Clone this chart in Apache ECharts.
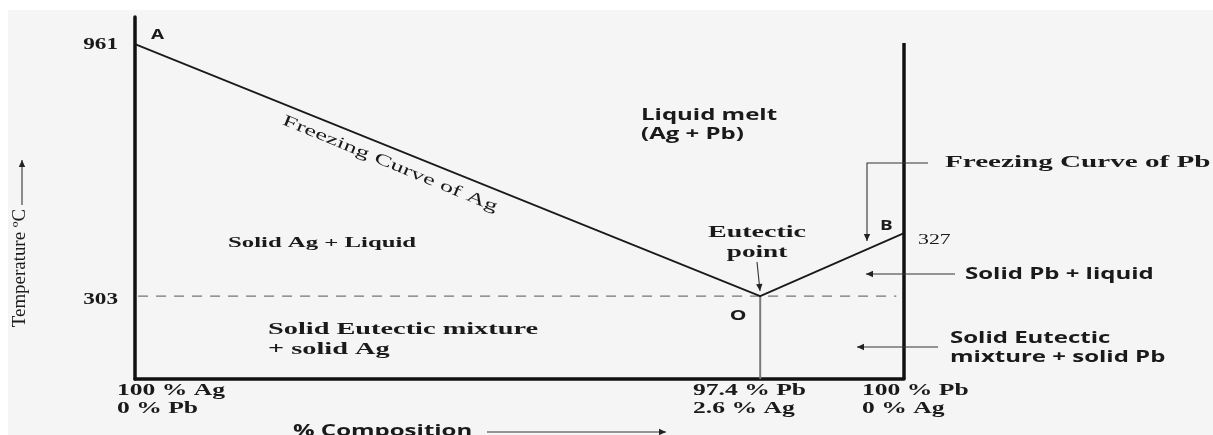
<!DOCTYPE html>
<html>
<head>
<meta charset="utf-8">
<script src="https://cdn.jsdelivr.net/npm/echarts@6/dist/echarts.min.js"></script>
<style>
html,body{margin:0;padding:0;background:#fff;}
#c{width:1213px;height:435px;}
</style>
</head>
<body>
<div id="c"></div>
<script>
// ---- data (schematic diagram: positions are not to scale) ----
const pointNames = ['A', 'O', 'B'];
const compositionPos = [0, 81.3, 100];          // x: 100% Ag, eutectic, 100% Pb
const tempPos = [92.5, 22.9, 40.3];             // y: schematic height of A, O, B
const tempLabels = ['961', '303', '327'];
const compLabelsTop = ['100 % Ag', '97.4 % Pb', '100 % Pb'];
const compLabelsBottom = ['0 % Pb', '2.6 % Ag', '0 % Ag'];
const wallTop = 92.8;

const freezingCurve = compositionPos.map((x, i) => [x, tempPos[i]]);
const eutecticX = compositionPos[1], eutecticY = tempPos[1];

const chart = echarts.init(document.getElementById('c'));

const SERIF = '"Liberation Serif","Times New Roman",serif';
const SANS = '"Open Sans",Lato,sans-serif';
const SX = 1.6;

function txt(text, x, y, o) {
  o = o || {};
  return {
    type: 'text', x: x, y: y, z: 10,
    rotation: o.rot || 0,
    scaleX: o.sx == null ? SX : o.sx,
    style: {
      text: text,
      font: (o.weight || 'bold') + ' ' + (o.size || 16) + 'px ' + (o.family || SERIF),
      fill: o.color || '#1a1a1a',
      textAlign: o.align || 'left',
      textVerticalAlign: 'middle'
    }
  };
}
function arrow(x1, y1, x2, y2, pts) {
  const path = pts ? pts : [[x1, y1], [x2, y2]];
  const a = path[path.length - 2], b = path[path.length - 1];
  const ang = Math.atan2(b[1] - a[1], b[0] - a[0]);
  const L = 7, W = 3.2;
  const p1 = [b[0] - L * Math.cos(ang) + W * Math.sin(ang), b[1] - L * Math.sin(ang) - W * Math.cos(ang)];
  const p2 = [b[0] - L * Math.cos(ang) - W * Math.sin(ang), b[1] - L * Math.sin(ang) + W * Math.cos(ang)];
  return [
    { type: 'polyline', z: 10, shape: { points: path }, style: { stroke: '#333', lineWidth: 1.1, fill: null } },
    { type: 'polygon', z: 10, shape: { points: [b, p1, p2] }, style: { fill: '#222' } }
  ];
}

const graphics = [
  { type: 'rect', z: -10, shape: { x: 8, y: 10, width: 1205, height: 425 }, style: { fill: '#f5f5f5' } },
  // tick labels
  txt(tempLabels[0], 118, 45, { align: 'right', sx: 1.45 }),
  txt(tempLabels[1], 118, 300, { align: 'right', sx: 1.45 }),
  txt(tempLabels[2], 918, 240, { size: 15, weight: 'normal', sx: 1.45 }),
  // point letters
  txt(pointNames[0], 151, 35, { family: SANS, size: 14, sx: 1.35 }),
  txt(pointNames[1], 738, 316, { family: SANS, size: 15, sx: 1.4, align: 'center' }),
  txt(pointNames[2], 880, 226, { family: SANS, size: 14, sx: 1.35 }),
  // curve / region labels
  txt('Freezing Curve of Ag', 390, 164, { weight: 'normal', align: 'center', rot: -0.39, sx: 1.65 }),
  txt('Liquid melt', 641, 115, { family: SANS, size: 16, sx: 1.5 }),
  txt('(Ag + Pb)', 641, 134, { family: SANS, size: 16, sx: 1.5 }),
  txt('Freezing Curve of Pb', 945, 163, { size: 16, sx: 1.82 }),
  txt('Eutectic', 757, 233, { align: 'center', size: 16, sx: 1.75 }),
  txt('point', 757, 253, { align: 'center', size: 16, sx: 1.7 }),
  txt('Solid Ag + Liquid', 228, 243, { size: 15, sx: 1.65 }),
  txt('Solid Pb + liquid', 965, 274, { family: SANS, size: 16, sx: 1.5 }),
  txt('Solid Eutectic mixture', 268, 330, { size: 16, sx: 1.77 }),
  txt('+ solid Ag', 268, 350, { size: 16, sx: 1.77 }),
  txt('Solid Eutectic', 950, 338, { family: SANS, size: 16, sx: 1.5 }),
  txt('mixture + solid Pb', 950, 357, { family: SANS, size: 16, sx: 1.5 }),
  // axis titles
  txt('% Composition', 293, 431, { family: SANS, size: 16, sx: 1.5 }),
  txt('Temperature ºC', 20, 268, { weight: 'normal', size: 18, sx: 1.05, align: 'center', rot: Math.PI / 2 })
];
// composition labels
const compLeft = [117, 693, 862];
compositionPos.forEach((p, i) => {
  graphics.push(txt(compLabelsTop[i], compLeft[i], 391, { size: 16, sx: 1.6 }));
  graphics.push(txt(compLabelsBottom[i], compLeft[i], 409, { size: 16, sx: 1.6 }));
});
// annotation arrows
graphics.push(...arrow(0, 0, 0, 0, [[928, 163], [867, 163], [867, 241]]));
graphics.push(...arrow(757, 262, 760, 291));
graphics.push(...arrow(955, 274, 866, 274));
graphics.push(...arrow(938, 347, 857, 347));
graphics.push(...arrow(487, 432, 666, 432));
graphics.push(...arrow(22, 205, 22, 160));

chart.setOption({
  backgroundColor: '#ffffff',
  animation: false,
  grid: { left: 135, right: 309, top: 17, bottom: 56 },
  xAxis: {
    type: 'value', min: 0, max: 100,
    axisLine: { show: true, onZero: false, lineStyle: { color: '#111', width: 3.5 } },
    axisTick: { show: false }, axisLabel: { show: false }, splitLine: { show: false }
  },
  yAxis: {
    type: 'value', min: 0, max: 100,
    axisLine: { show: true, onZero: false, lineStyle: { color: '#111', width: 3.5 } },
    axisTick: { show: false }, axisLabel: { show: false }, splitLine: { show: false }
  },
  series: [
    {
      name: 'Freezing curves', type: 'line', data: freezingCurve, symbol: 'none',
      lineStyle: { color: '#1a1a1a', width: 1.7 }, z: 5
    },
    {
      name: '100% Pb wall', type: 'line', data: [[compositionPos[2], 0], [compositionPos[2], wallTop]], symbol: 'none',
      lineStyle: { color: '#111', width: 3.5 }, z: 6
    },
    {
      name: 'Eutectic composition', type: 'line', data: [[eutecticX, eutecticY], [eutecticX, 0]], symbol: 'none',
      lineStyle: { color: '#7a7a7a', width: 2 }, z: 4
    },
    {
      name: 'Eutectic temperature', type: 'line', data: [[0.4, eutecticY], [99, eutecticY]], symbol: 'none',
      lineStyle: { color: '#555', width: 1, type: [10, 8] }, z: 3
    }
  ],
  graphic: graphics
});
</script>
</body>
</html>
